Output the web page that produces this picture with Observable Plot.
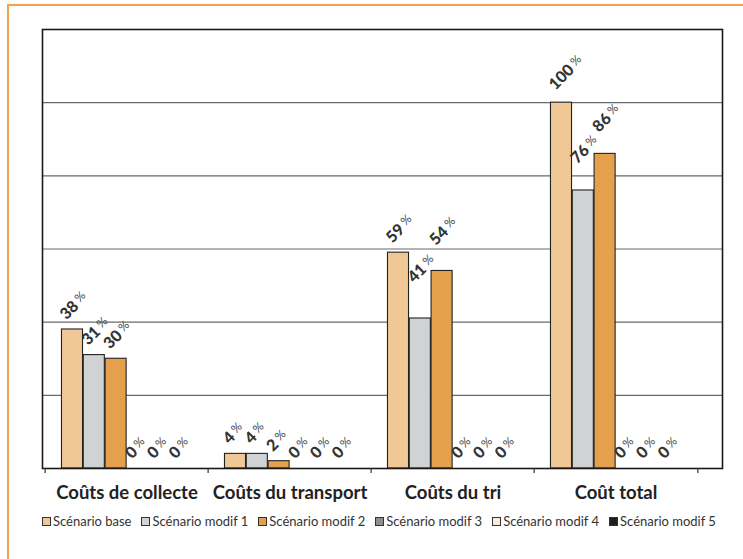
<!DOCTYPE html>
<html>
<head>
<meta charset="utf-8">
<script src="https://cdn.jsdelivr.net/npm/d3@7"></script>
<script src="https://cdn.jsdelivr.net/npm/@observablehq/plot@0.6"></script>
<style>
  html, body { margin: 0; padding: 0; background: #fff; }
  #wrap { position: relative; width: 743px; height: 559px; overflow: hidden; }
  #border { position: absolute; left: 7px; top: 4px; width: 760px; height: 600px;
            border-left: 2px solid #F2A34A; border-top: 2px solid #F2A34A; }
  #chart { position: absolute; left: 0; top: 0; }
  #legend { position: absolute; left: 42px; top: 513px; display: flex; align-items: center;
            font-family: Lato, "Open Sans", sans-serif; font-size: 13px; color: #333; white-space: nowrap; }
  #legend .item { display: flex; align-items: center; margin-right: 10px; }
  #legend .sw { width: 7px; height: 7px; border: 1px solid #333; margin-right: 2px; }
</style>
</head>
<body>
<div id="wrap">
  <div id="border"></div>
  <div id="chart"></div>
  <div id="legend"></div>
</div>
<script>
const categories = ["Coûts de collecte", "Coûts du transport", "Coûts du tri", "Coût total"];
const scenarios = ["Scénario base", "Scénario modif 1", "Scénario modif 2", "Scénario modif 3", "Scénario modif 4", "Scénario modif 5"];
const scenarioBase = [38, 4, 59, 100];
const scenarioModif1 = [31, 4, 41, 76];
const scenarioModif2 = [30, 2, 54, 86];
const scenarioModif3 = [0, 0, 0, 0];
const scenarioModif4 = [0, 0, 0, 0];
const scenarioModif5 = [0, 0, 0, 0];
const gridValues = [20, 40, 60, 80, 100];

const series = [scenarioBase, scenarioModif1, scenarioModif2, scenarioModif3, scenarioModif4, scenarioModif5];
const colors = ["#F0C895", "#D1D2D4", "#E4A04C", "#8E8E8E", "#FCE9D9", "#1E1E1E"];

const data = [];
series.forEach((vals, si) => vals.forEach((v, ci) => data.push({cat: categories[ci], scen: scenarios[si], si, value: v})));

// layout constants
const x0 = 43, x1 = 698;
const bw = (x1 - x0) / categories.length;
const barW = 21.8;
const pad = (bw - scenarios.length * barW) / 2;

// extra lift (px) for some labels that were moved up in the original
const lift = {"Coûts du tri|1": 26, "Coûts du tri|2": 16, "Coût total|0": 3, "Coût total|1": 17, "Coût total|2": 12};

const numFont = {family: "Lato, sans-serif", weight: "900", size: 16};
const pctFont = {family: "Lato, sans-serif", weight: "normal", size: 12};
const ctx = document.createElement("canvas").getContext("2d");
ctx.font = `${numFont.weight} ${numFont.size}px Lato`;
const c45 = Math.SQRT1_2;

const marks = [];
marks.push(Plot.ruleY(gridValues, {stroke: "#6a6a6a", strokeWidth: 1.2}));
scenarios.forEach((s, si) => {
  marks.push(Plot.barY(data.filter(d => d.si === si), {
    x: "cat", y: "value", fill: colors[si], stroke: "#222", strokeWidth: 1.1,
    insetLeft: pad + si * barW, insetRight: bw - pad - (si + 1) * barW
  }));
});
data.forEach(d => {
  const cx = pad + (d.si + 0.5) * barW - bw / 2;
  const extra = lift[d.cat + "|" + d.si] || 0;
  const ax = cx - 6, ay = -9 - extra;
  marks.push(Plot.text([d], {
    x: "cat", y: "value", text: v => String(v.value),
    rotate: -45, textAnchor: "start", lineAnchor: "bottom",
    dx: ax, dy: ay,
    fontFamily: numFont.family, fontWeight: numFont.weight, fontSize: numFont.size, fill: "#333"
  }));
  const w = ctx.measureText(String(d.value)).width + 3;
  const up = 3; // raise the % sign perpendicular to the baseline
  marks.push(Plot.text([d], {
    x: "cat", y: "value", text: () => "%",
    rotate: -45, textAnchor: "start", lineAnchor: "bottom",
    dx: ax + w * c45 - up * c45, dy: ay - w * c45 - up * c45,
    fontFamily: pctFont.family, fontWeight: pctFont.weight, fontSize: pctFont.size, fill: "#444"
  }));
});
marks.push(Plot.frame({stroke: "#1a1a1a", strokeWidth: 1.6}));
marks.push(Plot.ruleX(categories, {x: d => d, dx: -bw / 2, insetTop: 439, insetBottom: -5, stroke: "#333", strokeWidth: 1.2}));
marks.push(Plot.ruleX(categories.slice(-1), {x: d => d, dx: bw / 2, insetTop: 439, insetBottom: -5, stroke: "#333", strokeWidth: 1.2}));
marks.push(Plot.text(categories, {
  x: d => d, frameAnchor: "bottom", dy: 30, lineAnchor: "bottom", text: d => d,
  fontFamily: "Lato, sans-serif", fontWeight: "bold", fontSize: 18.5, fill: "#222"
}));

const chart = Plot.plot({
  width: 743,
  height: 505,
  marginLeft: 42,
  marginRight: 21,
  marginTop: 29,
  marginBottom: 37,
  style: {background: "transparent", overflow: "visible"},
  x: {type: "band", domain: categories, range: [x0, x1], padding: 0, axis: null},
  y: {domain: [0, 120], axis: null},
  marks
});
document.getElementById("chart").appendChild(chart);

const legend = document.getElementById("legend");
scenarios.forEach((s, i) => {
  const it = document.createElement("div");
  it.className = "item";
  const sw = document.createElement("span");
  sw.className = "sw";
  sw.style.background = colors[i];
  const t = document.createElement("span");
  t.textContent = s;
  it.appendChild(sw); it.appendChild(t);
  legend.appendChild(it);
});
</script>
</body>
</html>
